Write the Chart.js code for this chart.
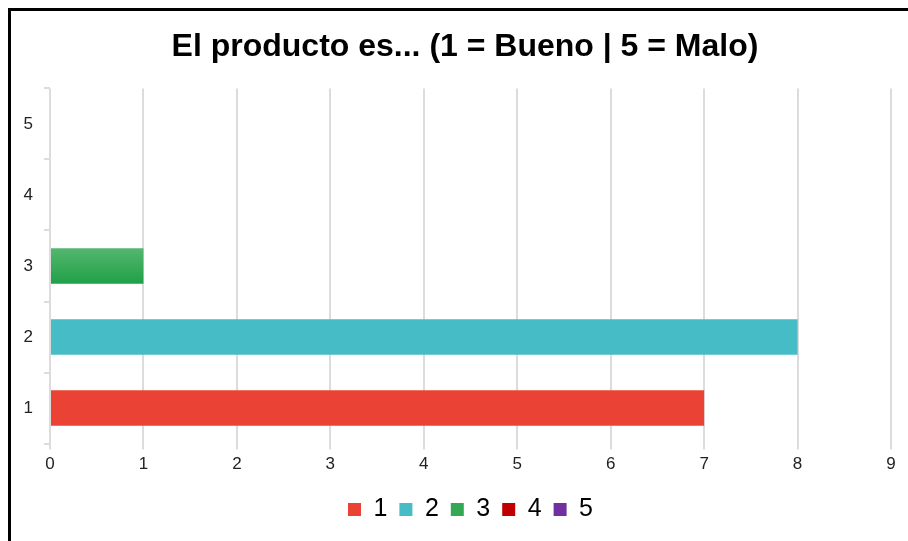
<!DOCTYPE html>
<html>
<head>
<meta charset="utf-8">
<script src="https://cdn.jsdelivr.net/npm/chart.js@4.4.1/dist/chart.umd.min.js"></script>
<style>
  html, body { margin: 0; padding: 0; background: #fff; overflow: hidden; }
  #wrap { position: relative; width: 908px; height: 541px; overflow: hidden; }
  #chart { position: absolute; left: 0; top: 0; }
  #frame {
    position: absolute; left: 8px; top: 8px; width: 1000px; height: 700px;
    border-left: 3px solid #000; border-top: 3px solid #000; pointer-events: none;
  }
</style>
</head>
<body>
<div id="wrap">
  <canvas id="chart" width="930" height="541"></canvas>
  <div id="frame"></div>
</div>
<script>
const categories = ['1', '2', '3', '4', '5'];
const answers = [7, 8, 1, 0, 0];
const barColors = ['#EA4335', '#46BDC6', '#34A853', '#C00000', '#7030A0'];
const xTicks = [0, 1, 2, 3, 4, 5, 6, 7, 8, 9];

const gridColor = '#dcdcdc';

// green bar has a soft vertical gradient
function barFill(c) {
  const chart = c.chart;
  if (c.dataIndex !== 2 || !chart.chartArea) return barColors[c.dataIndex];
  const yc = chart.scales.y.getPixelForValue(c.dataIndex);
  const g = chart.ctx.createLinearGradient(0, yc - 18, 0, yc + 18);
  g.addColorStop(0, '#55b66f');
  g.addColorStop(1, '#20a047');
  return g;
}

// nudge title and legend to the right, like the original
const shiftBoxes = {
  id: 'shiftBoxes',
  afterLayout(chart) {
    if (chart.titleBlock) chart.titleBlock.left += 21;
    if (chart.legend) chart.legend.left += 32;
  }
};

const ctx = document.getElementById('chart').getContext('2d');
new Chart(ctx, {
  type: 'bar',
  data: {
    labels: categories,
    datasets: [{
      label: 'Respuestas',
      data: answers,
      backgroundColor: barFill,
      borderWidth: 0,
      barPercentage: 0.5,
      categoryPercentage: 1
    }]
  },
  plugins: [shiftBoxes],
  options: {
    indexAxis: 'y',
    responsive: false,
    animation: false,
    layout: { padding: { left: 18, right: 39, top: 0, bottom: 9 } },
    plugins: {
      title: {
        display: true,
        text: 'El producto es... (1 = Bueno | 5 = Malo)',
        color: '#000',
        font: { family: 'Arial, "Liberation Sans", sans-serif', size: 32, weight: 'bold' },
        padding: { top: 28, bottom: 22 }
      },
      legend: {
        position: 'bottom',
        labels: {
          color: '#000',
          font: { family: 'Arial, "Liberation Sans", sans-serif', size: 25 },
          boxWidth: 13,
          boxHeight: 13,
          padding: 12,
          generateLabels: () => categories.map((c, i) => ({
            text: c,
            fillStyle: barColors[i],
            strokeStyle: barColors[i],
            lineWidth: 0,
            index: i
          }))
        }
      },
      tooltip: { enabled: false }
    },
    scales: {
      x: {
        min: 0,
        max: 9,
        afterBuildTicks: s => { s.ticks = xTicks.map(v => ({ value: v })); },
        afterFit: s => { s.height += 5; },
        border: { display: false },
        grid: { color: gridColor, lineWidth: 2, tickLength: 6 },
        ticks: {
          color: '#222',
          padding: 5,
          font: { family: 'Arial, "Liberation Sans", sans-serif', size: 17 }
        }
      },
      y: {
        reverse: true,
        afterFit: s => { s.width = 32; },
        border: { display: false },
        grid: { color: gridColor, lineWidth: 2, tickLength: 6, drawOnChartArea: false, offset: true },
        ticks: {
          color: '#222',
          padding: 11,
          font: { family: 'Arial, "Liberation Sans", sans-serif', size: 17 }
        }
      }
    }
  }
});
</script>
</body>
</html>
